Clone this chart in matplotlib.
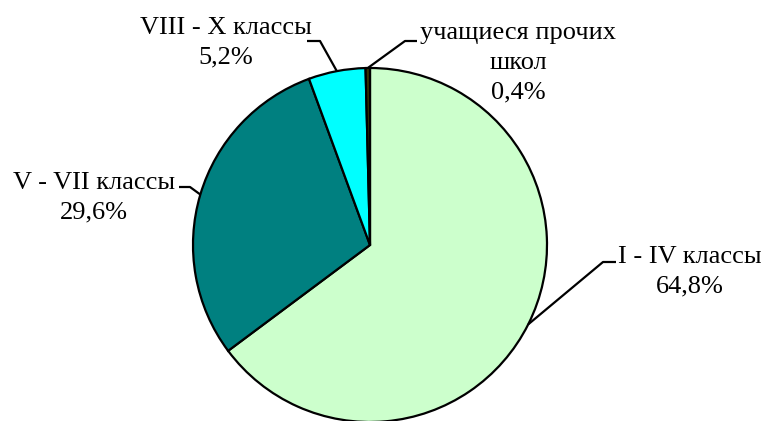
import numpy as np
import matplotlib.pyplot as plt

labels = ["I - IV классы", "V - VII классы", "VIII - X классы", "учащиеся прочих\nшкол"]
values = [64.8, 29.6, 5.2, 0.4]
colors = ["#CCFFCC", "#008080", "#00FFFF", "#333300"]

# label layout in pixels: text centre, elbow point, end of horizontal tick
text_px = [(690, 272), (94, 198), (226, 43), (518, 63)]
elbow_px = [(603, 262), (190, 187), (320, 41), (405, 41)]
tick_px = [(616, 262), (179, 187), (307, 41), (417, 41)]

W, H = 768, 421
CX, CY, R = 370, 245, 177

fig = plt.figure(figsize=(W / 100, H / 100), dpi=100)
ax = fig.add_axes([0, 0, 1, 1])

wedges, _ = ax.pie(values, colors=colors, startangle=90, counterclock=False,
                   radius=1.0, wedgeprops=dict(edgecolor="black", linewidth=1.6))

ax.set_xlim(-CX / R, (W - CX) / R)
ax.set_ylim(-(H - CY) / R, CY / R)
ax.set_aspect("auto")
ax.axis("off")


def to_data(p):
    return (p[0] - CX) / R, (CY - p[1]) / R


for i, w in enumerate(wedges):
    mid = np.deg2rad((w.theta1 + w.theta2) / 2)
    start = (np.cos(mid), np.sin(mid))
    ex, ey = to_data(elbow_px[i])
    tx, ty = to_data(tick_px[i])
    ax.plot([start[0], ex, tx], [start[1], ey, ty], color="black", lw=1.6,
            solid_capstyle="butt", clip_on=False)
    txt = labels[i] + "\n" + f"{values[i]:.1f}%".replace(".", ",")
    lx, ly = to_data(text_px[i])
    ax.text(lx, ly, txt, ha="center", va="center", multialignment="center",
            fontsize=19, family="Liberation Serif", linespacing=1.45)

fig.savefig("out.png", dpi=100)
